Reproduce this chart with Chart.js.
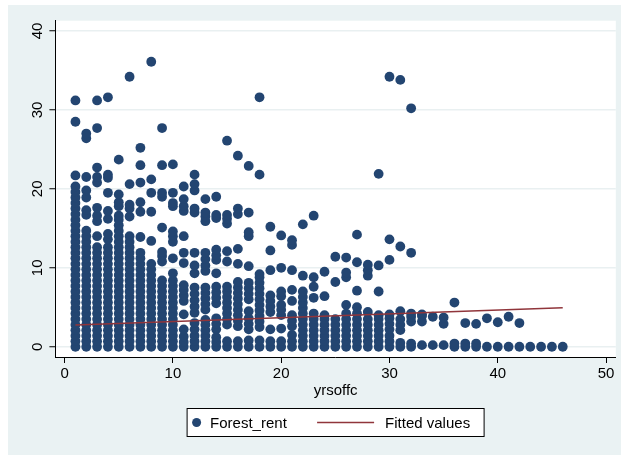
<!DOCTYPE html>
<html>
<head>
<meta charset="utf-8">
<script src="https://cdn.jsdelivr.net/npm/chart.js@4.4.1/dist/chart.umd.min.js"></script>
<style>
  body { margin: 0; background: #ffffff; }
  canvas { display: block; }
</style>
</head>
<body>
<canvas id="c" width="621" height="455"></canvas>
<script>
// years in office (x) and the Forest_rent values
const yrsoffc = [1,2,3,4,5,6,7,8,9,10,11,12,13,14,15,16,17,18,19,20,21,22,23,24,25,26,27,28,29,30,31,32,33,34,35,36,37,38,39,40,41,42,43,44,45,46]
const forestRent = [
  [0,0.7,1.4,2.1,2.8,3.5,4.2,4.9,5.6,6.3,7,7.7,8.4,9.1,9.8,10.5,11.2,11.9,12.6,13.3,14,14.7,15.4,16.1,16.8,17.5,18.2,18.9,19.6,20.3,21.7,28.5,31.2],
  [0,0.7,1.4,2.1,2.8,3.5,4.2,4.9,5.6,6.3,7,7.7,8.4,9.1,9.8,10.5,11.2,11.9,12.6,13.3,14,14.7,16.7,17.3,18.9,19.8,21.5,26.4,27.0],
  [0,0.7,1.4,2.1,2.8,3.5,4.2,4.9,5.6,6.3,7,7.7,8.4,9.1,9.8,10.5,11.2,11.9,12.6,14.0,15.9,16.6,17.6,20.8,21.5,22.7,27.7,31.2],
  [0,0.7,1.4,2.1,2.8,3.5,4.2,4.9,5.6,6.3,7,7.7,8.4,9.1,9.8,10.5,11.2,11.9,12.6,13.6,14.3,16.2,17.2,19.5,21.4,21.8,31.6],
  [0,0.7,1.4,2.1,2.8,3.5,4.2,4.9,5.6,6.3,7,7.7,8.4,9.1,9.8,10.5,11.2,11.9,12.6,13.3,14,14.7,15.4,16.1,16.6,17.8,18.3,19.3,23.7],
  [0,0.7,1.4,2.1,2.8,3.5,4.2,4.9,5.6,6.3,7,7.7,8.4,9.1,9.8,10.5,11.2,11.9,12.6,13.3,14,16.5,17.5,18.0,20.6,34.2],
  [0,0.7,1.4,2.1,2.8,3.5,4.2,4.9,5.6,6.3,7,7.7,8.4,9.1,9.8,10.5,11.2,11.9,13.9,17.1,18.3,20.8,23.0,25.2],
  [0,0.7,1.4,2.1,2.8,3.5,4.2,4.9,5.6,6.3,7,7.7,8.4,9.1,9.8,10.5,13.4,17.1,19.5,21.2,36.1],
  [0,0.7,1.4,2.1,2.8,3.5,4.2,4.9,5.6,6.3,7,7.7,8.4,10.8,11.5,12.0,15.1,19.0,19.5,23.0,27.7],
  [0,0.7,1.4,2.1,2.8,3.5,4.2,4.9,5.6,6.3,7,7.7,8.4,9.3,11.2,13.3,14.0,14.6,17.8,18.2,19.5,23.1],
  [0,0.6,1.3,2.2,4.1,5.8,6.5,7.2,7.8,10.6,11.9,14.0,17.2,17.8,18.7,20.3],
  [0,0.7,1.4,2.2,3.0,4.3,5.1,5.9,6.7,7.5,9.3,10.3,11.9,17.0,17.5,19.8,20.6,21.8],
  [0,0.7,1.4,2.1,2.8,3.4,4.7,5.4,6.1,6.8,7.5,9.6,10.3,11.1,11.9,15.9,16.5,17.0,18.7],
  [0,0.6,1.2,2.2,2.9,3.6,5.5,6.2,6.9,7.6,9.3,11.0,11.6,12.3,16.3,16.7,19.0],
  [0,0.7,2.8,3.5,4.2,4.9,5.6,6.3,7.0,7.6,10.8,12.1,15.6,16.2,16.7,26.1],
  [0,0.7,2.6,3.3,4.0,4.7,5.4,6.1,6.8,7.5,8.2,10.5,12.4,16.8,17.5,24.2],
  [0,0.8,2.2,2.9,3.6,4.5,6.0,6.7,7.4,8.1,10.2,14.0,14.5,17.0,22.9],
  [0,0.8,2.5,3.2,3.9,4.6,5.3,6.0,6.7,7.4,8.1,8.8,9.2,21.8,31.6],
  [0,0.7,2.2,4.4,5.1,5.8,6.5,9.7,12.2,15.2],
  [0,0.7,2.3,4.0,4.7,5.3,6.4,7.0,10.0,14.1],
  [0,0.7,1.5,2.6,3.3,4.0,5.8,7.2,9.7,12.9,13.5],
  [0,0.7,1.4,2.1,2.8,3.5,4.2,4.9,5.6,6.3,7.0,9.0,15.5],
  [0,0.7,1.4,2.1,2.8,3.5,4.2,6.2,7.6,8.8,16.6],
  [0,0.7,1.4,2.1,2.8,3.5,4.0,6.4,9.5],
  [0,0.7,1.4,2.1,2.8,3.5,8.2,11.4],
  [0,0.7,1.4,2.1,2.8,3.5,4.2,5.3,8.8,9.4,11.3],
  [0,0.7,1.4,2.1,2.8,3.5,4.2,5.0,7.1,10.7,14.2],
  [0,0.7,1.4,2.1,2.8,3.5,4.4,9.0,9.7,10.4],
  [0,0.7,1.4,2.1,2.8,3.5,4.0,7.0,10.3,21.9],
  [0,0.7,1.4,2.2,2.9,3.6,4.1,11.0,13.6,34.2],
  [0,0.5,2.1,2.8,3.5,4.5,12.7,33.8],
  [0,0.4,3.2,3.8,4.2,11.9,30.2],
  [0.2,3.2,3.9,4.1],
  [0.2,3.8],
  [0.2,2.9,3.7],
  [0,0.4,5.6],
  [0,0.4,3.0],
  [0,0.4,2.9],
  [0,3.6],
  [0,3.1],
  [0,3.8],
  [0,3.0],
  [0],[0],[0],[0]
]
// linear fit drawn by Stata
const fitX = [1, 46]
const fitY = [2.75, 4.94]

const xTicks = [0,10,20,30,40,50]
const yTicks = [0,10,20,30,40]

const navy = '#234571'
const maroon = '#90353b'
const font = '"Liberation Sans", Arial, sans-serif'

let points = []
forestRent.forEach((ys, i) => {
    ys.forEach(y => points.push({x: yrsoffc[i], y: y}))
})
let fitted = fitX.map((x, i) => ({x: x, y: fitY[i]}))

const stataLook = {
    id: 'stataLook',
    beforeDraw(chart) {
        const ctx = chart.ctx
        const a = chart.chartArea
        ctx.save()
        ctx.fillStyle = '#eaf2f3'
        ctx.fillRect(8, 5, chart.width - 8, chart.height - 5)
        ctx.fillStyle = '#ffffff'
        ctx.fillRect(a.left, a.top, a.right - a.left, a.bottom - a.top)
        ctx.restore()
    },
    afterDraw(chart) {
        const ctx = chart.ctx
        const a = chart.chartArea
        const ys = chart.scales.y
        ctx.save()
        ctx.fillStyle = '#000'
        ctx.font = '15px ' + font
        ctx.textAlign = 'center'
        ctx.textBaseline = 'middle'
        yTicks.forEach(v => {
            ctx.save()
            ctx.translate(38, ys.getPixelForValue(v))
            ctx.rotate(-Math.PI / 2)
            ctx.fillText(String(v), 0, 0)
            ctx.restore()
        })
        // legend box
        const cx = (a.left + a.right) / 2
        const bx = cx - 148.5, by = 408.5, bw = 297, bh = 28
        const my = by + bh / 2
        ctx.fillStyle = '#fff'
        ctx.fillRect(bx, by, bw, bh)
        ctx.strokeStyle = '#000'
        ctx.lineWidth = 1
        ctx.strokeRect(bx, by, bw, bh)
        ctx.fillStyle = navy
        ctx.beginPath()
        ctx.arc(bx + 9.5, my, 4.5, 0, Math.PI * 2)
        ctx.fill()
        ctx.fillStyle = '#000'
        ctx.textAlign = 'left'
        ctx.fillText('Forest_rent', bx + 23, my + 1)
        ctx.strokeStyle = maroon
        ctx.lineWidth = 1.5
        ctx.beginPath()
        ctx.moveTo(bx + 130, my)
        ctx.lineTo(bx + 187, my)
        ctx.stroke()
        ctx.fillText('Fitted values', bx + 198, my + 1)
        ctx.restore()
    }
}

const chart = new Chart(document.getElementById('c'), {
    type: 'scatter',
    data: {
        datasets: [{
            type: 'line',
            label: 'Fitted values',
            data: fitted,
            borderColor: maroon,
            borderWidth: 1.5,
            pointRadius: 0,
            fill: false,
            order: 0
        }, {
            label: 'Forest_rent',
            data: points,
            backgroundColor: navy,
            borderColor: navy,
            borderWidth: 0,
            pointRadius: 4.9,
            order: 1
        }]
    },
    options: {
        responsive: false,
        animation: false,
        layout: { padding: { left: 8, top: 20.7, right: 5.2, bottom: 51.3 } },
        plugins: {
            legend: { display: false },
            tooltip: { enabled: false }
        },
        scales: {
            x: {
                type: 'linear',
                min: -0.85,
                max: 50.9,
                afterBuildTicks: s => { s.ticks = xTicks.map(v => ({value: v})) },
                afterFit: s => { s.height = 46.7 },
                grid: { drawOnChartArea: false, tickLength: 6, tickColor: '#000' },
                border: { color: '#000', width: 1 },
                ticks: { color: '#000', font: { family: font, size: 15 }, padding: 2, maxRotation: 0 },
                title: { display: true, text: 'yrsoffc', color: '#000', font: { family: font, size: 15 } }
            },
            y: {
                min: -1.3,
                max: 41.3,
                afterBuildTicks: s => { s.ticks = yTicks.map(v => ({value: v})) },
                afterFit: s => { s.width = 47.4 },
                grid: { color: '#e9f0f1', lineWidth: 1.5, tickLength: 6, tickColor: '#000', tickWidth: 1 },
                border: { color: '#000', width: 1 },
                ticks: { display: false }
            }
        }
    },
    plugins: [stataLook]
})
</script>
</body>
</html>
